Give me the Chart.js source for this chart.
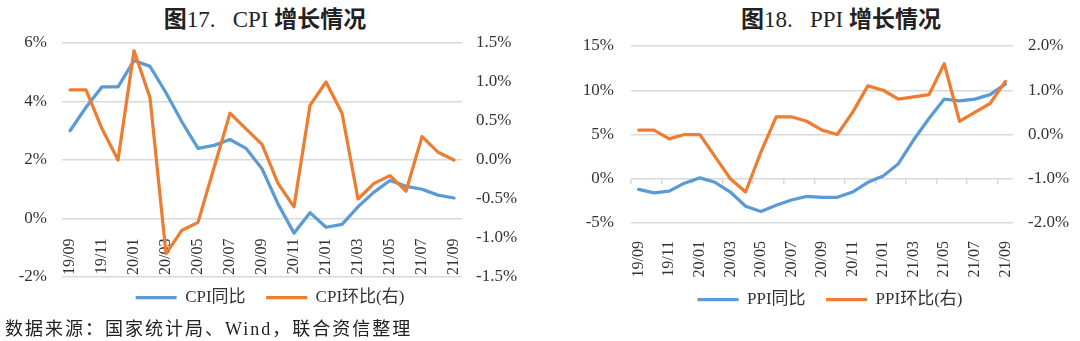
<!DOCTYPE html>
<html>
<head>
<meta charset="utf-8">
<script src="https://cdn.jsdelivr.net/npm/chart.js@4.4.1/dist/chart.umd.min.js"></script>
<style>
  body { margin: 0; width: 1080px; height: 341px; background: #fff; position: relative; overflow: hidden; }
  canvas { position: absolute; top: 0; }
  .ttl { position: absolute; top: 3px; text-align: center; font-size: 23px; line-height: 28px; color: #222; white-space: nowrap; }
  .ttl .zh { font-family: 'Noto Sans CJK SC', sans-serif; font-weight: bold; }
  .ttl .en { font-family: 'Liberation Serif', serif; }
  .src { position: absolute; left: 5px; top: 318px; font-family: 'Liberation Serif', 'Noto Sans CJK SC', serif; font-size: 18px; line-height: 22px; letter-spacing: 2px; color: #222; white-space: nowrap; }
</style>
</head>
<body>
<div class="ttl" style="left:0;width:530px"><span class="zh">图</span><span class="en">17.&nbsp;&nbsp; CPI </span><span class="zh">增长情况</span></div>
<div class="ttl" style="left:602px;width:478px"><span class="zh">图</span><span class="en">18.&nbsp;&nbsp; PPI </span><span class="zh">增长情况</span></div>
<canvas id="cpi" width="540" height="320" style="left:0"></canvas>
<canvas id="ppi" width="540" height="322" style="left:540px"></canvas>
<div class="src">数据来源：国家统计局、Wind，联合资信整理</div>
<script>
// monthly categories, 2019/09 - 2021/09
const months = ['19/09', '19/10', '19/11', '19/12', '20/01', '20/02', '20/03', '20/04', '20/05',
  '20/06', '20/07', '20/08', '20/09', '20/10', '20/11', '20/12', '21/01', '21/02', '21/03',
  '21/04', '21/05', '21/06', '21/07', '21/08', '21/09'];

// CPI, %
const cpiYoy = [3.0, 3.8, 4.5, 4.5, 5.4, 5.2, 4.3, 3.3, 2.4, 2.5, 2.7, 2.4, 1.7, 0.5, -0.5, 0.2,
  -0.3, -0.2, 0.4, 0.9, 1.3, 1.1, 1.0, 0.8, 0.7];
const cpiMom = [0.9, 0.9, 0.4, 0.0, 1.4, 0.8, -1.2, -0.9, -0.8, -0.1, 0.6, 0.4, 0.2, -0.3, -0.6, 0.7,
  1.0, 0.6, -0.5, -0.3, -0.2, -0.4, 0.3, 0.1, 0.0];

// PPI, %
const ppiYoy = [-1.2, -1.6, -1.4, -0.5, 0.1, -0.4, -1.5, -3.1, -3.7, -3.0, -2.4, -2.0, -2.1, -2.1,
  -1.5, -0.4, 0.3, 1.7, 4.4, 6.8, 9.0, 8.8, 9.0, 9.5, 10.7];
const ppiMom = [0.1, 0.1, -0.1, 0.0, 0.0, -0.5, -1.0, -1.3, -0.4, 0.4, 0.4, 0.3, 0.1, 0.0, 0.5, 1.1,
  1.0, 0.8, 0.85, 0.9, 1.6, 0.3, 0.5, 0.7, 1.2];

// axis ranges: [min, max, step]
const cpiLeftAxis = [-2, 6, 2];
const cpiRightAxis = [-1.5, 1.5, 0.5];
const ppiLeftAxis = [-5, 15, 5];
const ppiRightAxis = [-2, 2, 1];

const SERIF = "'Liberation Serif', 'Noto Sans CJK SC', serif";
const BLUE = '#5B9BD5';
const ORANGE = '#ED7D31';
const GRID = '#d9d9d9';
const TEXT = '#333333';

function series(label, data, color, axis, order) {
  return {
    label: label,
    data: data,
    yAxisID: axis,
    borderColor: color,
    backgroundColor: color,
    borderWidth: 3.25,
    pointRadius: 0,
    tension: 0,
    borderJoinStyle: 'round',
    borderCapStyle: 'round',
    order: order
  };
}

function yAxis(range, side, width, pad, digits, grid) {
  return {
    position: side,
    min: range[0],
    max: range[1],
    afterFit: (s) => { s.width = width; },
    afterBuildTicks: (s) => {
      const t = [];
      for (let v = range[0]; v <= range[1] + 1e-9; v += range[2]) t.push({ value: +v.toFixed(2) });
      s.ticks = t;
    },
    ticks: {
      padding: pad,
      color: TEXT,
      font: { family: SERIF, size: 17 },
      callback: (v) => v.toFixed(digits) + '%'
    },
    grid: grid
      ? { color: GRID, lineWidth: 1.5, drawTicks: false }
      : { drawOnChartArea: false, drawTicks: false },
    border: { display: false }
  };
}

const xTicks = {
  autoSkip: false,
  minRotation: 90,
  maxRotation: 90,
  color: TEXT,
  font: { family: SERIF, size: 16 },
  callback: (v, i) => (i % 2 === 0 ? months[i] : '')
};

// legend: line samples, a little extra room after the first entry
const legendOpts = {
  position: 'bottom',
  labels: {
    usePointStyle: true,
    pointStyle: 'line',
    pointStyleWidth: 41,
    padding: 12,
    color: TEXT,
    font: { family: SERIF, size: 17 },
    sort: (a, b) => a.datasetIndex - b.datasetIndex,
    generateLabels: (chart) => {
      const items = Chart.defaults.plugins.legend.labels.generateLabels(chart);
      items.forEach((it) => { if (it.datasetIndex === 0) it.text += '\u2002'; });
      return items;
    }
  }
};

// CPI: category axis sits on the 0% line
new Chart(document.getElementById('cpi'), {
  type: 'line',
  data: {
    labels: months,
    datasets: [
      series('CPI同比', cpiYoy, BLUE, 'y', 1),
      series('CPI环比(右)', cpiMom, ORANGE, 'y1', 0)
    ]
  },
  options: {
    responsive: false,
    animation: false,
    layout: { padding: { top: 43, bottom: 4, left: 0, right: 0 } },
    scales: {
      x: {
        position: { y: 0 },
        offset: true,
        ticks: Object.assign({}, xTicks, { padding: 12 }),
        grid: { display: false },
        border: { display: false }
      },
      y: yAxis(cpiLeftAxis, 'left', 62, 15, 0, true),
      y1: yAxis(cpiRightAxis, 'right', 78, 14, 1, false)
    },
    plugins: { legend: legendOpts, tooltip: { enabled: false } }
  }
});

// PPI: labels at the bottom, tick marks on the 0% line
new Chart(document.getElementById('ppi'), {
  type: 'line',
  data: {
    labels: months,
    datasets: [
      series('PPI同比', ppiYoy, BLUE, 'y', 1),
      series('PPI环比(右)', ppiMom, ORANGE, 'y1', 0)
    ]
  },
  options: {
    responsive: false,
    animation: false,
    layout: { padding: { top: 46, bottom: 4, left: 40, right: 0 } },
    scales: {
      x: {
        position: 'bottom',
        offset: true,
        afterFit: (s) => { s.height = 56; },
        ticks: Object.assign({}, xTicks, { padding: 10 }),
        grid: { display: false },
        border: { display: false }
      },
      x0: {
        type: 'category',
        labels: months,
        position: { y: 0 },
        offset: true,
        ticks: { display: false, autoSkip: false },
        grid: {
          offset: true,
          drawOnChartArea: false,
          drawTicks: true,
          tickLength: 5,
          lineWidth: 1.5,
          color: (c) => (c.index % 2 === 0 ? GRID : 'rgba(0,0,0,0)')
        },
        border: { display: false }
      },
      y: yAxis(ppiLeftAxis, 'left', 51, 17, 0, true),
      y1: yAxis(ppiRightAxis, 'right', 67, 15, 1, false)
    },
    plugins: { legend: legendOpts, tooltip: { enabled: false } }
  }
});
</script>
</body>
</html>
